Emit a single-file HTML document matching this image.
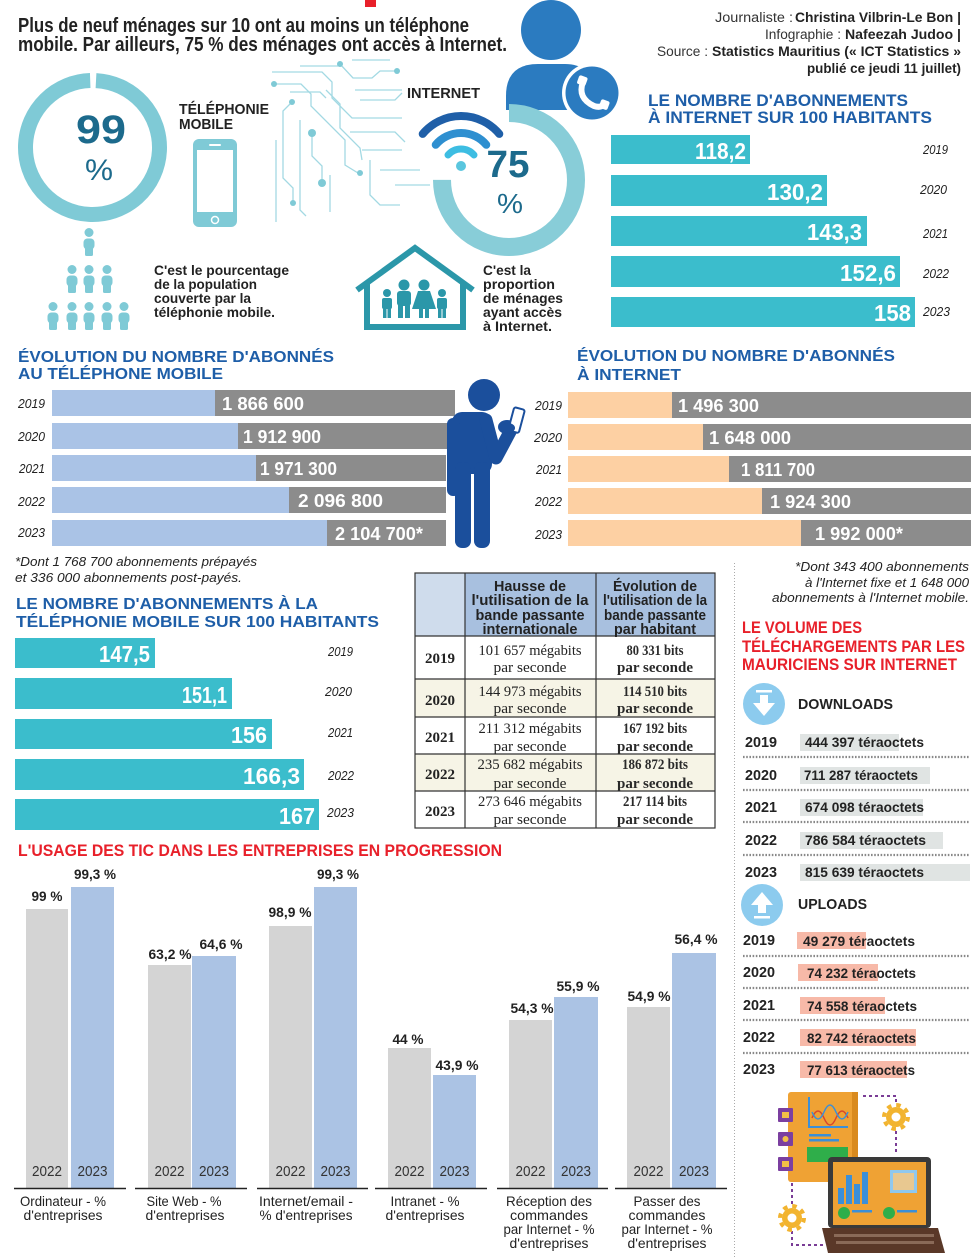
<!DOCTYPE html>
<html><head><meta charset="utf-8"><style>
html,body{margin:0;padding:0;background:#fff;}
svg{display:block;font-family:"Liberation Sans",sans-serif;}
.b{font-weight:bold}
.i{font-style:italic}
.ser{font-family:"Liberation Serif",serif}
</style></head><body>
<svg width="978" height="1257" viewBox="0 0 978 1257" xmlns="http://www.w3.org/2000/svg">
<defs>
<g id="pp"><circle cx="0" cy="4.5" r="4.5"/><rect x="-5.5" y="10.5" width="11" height="11" rx="4"/><rect x="-4" y="17" width="8" height="11" rx="1.5"/></g>
</defs>
<rect width="978" height="1257" fill="#fff"/>

<!-- red mark -->
<rect x="365" y="0" width="11" height="7" fill="#e8202a"/>

<!-- Title -->
<text x="18" y="32" class="b" font-size="20" fill="#222" textLength="451" lengthAdjust="spacingAndGlyphs">Plus de neuf ménages sur 10 ont au moins un téléphone</text>
<text x="18" y="51" class="b" font-size="20" fill="#222" textLength="489" lengthAdjust="spacingAndGlyphs">mobile. Par ailleurs, 75 % des ménages ont accès à Internet.</text>

<!-- 99% donut -->
<circle cx="92.5" cy="147.5" r="67" fill="none" stroke="#7fcad6" stroke-width="15" stroke-dasharray="415 6" transform="rotate(-87 92.5 147.5)"/>
<text x="101" y="143" text-anchor="middle" class="b" font-size="40" fill="#1c6a8c" textLength="50" lengthAdjust="spacingAndGlyphs">99</text>
<text x="99" y="180" text-anchor="middle" font-size="30" fill="#1c6a8c" textLength="28" lengthAdjust="spacingAndGlyphs">%</text>

<text x="179" y="114" class="b" font-size="15" fill="#222" textLength="90" lengthAdjust="spacingAndGlyphs">TÉLÉPHONIE</text>
<text x="179" y="129" class="b" font-size="15" fill="#222" textLength="54" lengthAdjust="spacingAndGlyphs">MOBILE</text>

<!-- phone icon -->
<rect x="193" y="139" width="44" height="88" rx="6" fill="#7fcad6"/>
<rect x="197" y="150" width="36" height="62" fill="#fff"/>
<rect x="209" y="144" width="12" height="2" rx="1" fill="#fff"/>
<circle cx="215" cy="220" r="3.5" fill="none" stroke="#fff" stroke-width="1.5"/>

<!-- circuit -->
<g stroke="#a3d9e3" stroke-width="1.3" fill="none">
<polyline points="340,64 353,78 372,78 380,71 397,71"/>
<polyline points="274,84 301,84 311,94 311,106 345,140 345,165 358,173"/>
<polyline points="292,102 283,111 283,178 293,188 293,203"/>
<polyline points="312,133 312,156 322,166 322,183"/>
<polyline points="272,72 322,72 332,82 332,98 352,118 402,118"/>
<polyline points="300,66 338,66"/>
<polyline points="326,90 340,104 340,128 360,148 362,160"/>
<polyline points="355,90 402,90"/>
<polyline points="360,100 395,100 402,93"/>
<polyline points="350,132 395,132 405,142"/>
<polyline points="362,150 402,150"/>
<polyline points="300,120 300,210 306,216"/>
<polyline points="276,140 276,222"/>
<polyline points="330,175 330,212"/>
<polyline points="370,160 370,195 380,205 400,205"/>
<polyline points="380,170 420,170"/>
<polyline points="395,185 430,185"/>
<polyline points="290,92 320,92 326,98"/>
<polyline points="352,60 390,60"/>
</g>
<g fill="#7fcad6">
<circle cx="340" cy="64" r="3"/><circle cx="397" cy="71" r="3"/><circle cx="274" cy="84" r="3"/>
<circle cx="360" cy="173" r="3"/><circle cx="292" cy="102" r="3"/><circle cx="293" cy="203" r="3"/>
<circle cx="312" cy="133" r="4"/><circle cx="322" cy="183" r="4"/>
</g>

<!-- people pyramid -->
<g fill="#7fcad6">
<use href="#pp" x="89" y="228"/>
<use href="#pp" x="72" y="265"/><use href="#pp" x="89" y="265"/><use href="#pp" x="107" y="265"/>
<use href="#pp" x="53" y="302"/><use href="#pp" x="72" y="302"/><use href="#pp" x="89" y="302"/><use href="#pp" x="107" y="302"/><use href="#pp" x="124" y="302"/>
</g>

<g class="b" font-size="13.5" fill="#222">
<text x="154" y="275" textLength="135" lengthAdjust="spacingAndGlyphs">C'est le pourcentage</text>
<text x="154" y="289" textLength="103" lengthAdjust="spacingAndGlyphs">de la population</text>
<text x="154" y="303" textLength="97" lengthAdjust="spacingAndGlyphs">couverte par la</text>
<text x="154" y="317" textLength="121" lengthAdjust="spacingAndGlyphs">téléphonie mobile.</text>
</g>

<text x="407" y="98" class="b" font-size="15" fill="#222" textLength="73" lengthAdjust="spacingAndGlyphs">INTERNET</text>

<!-- blue person with phone (top) -->
<circle cx="551" cy="30" r="30" fill="#2b7bc0"/>
<path d="M506,110 L506,96 Q506,64 538,64 L565,64 Q590,64 598,90 L598,110 Z" fill="#2b7bc0"/>

<!-- 75% donut -->
<circle cx="509" cy="180" r="67" fill="none" stroke="#88cdd8" stroke-width="18" stroke-dasharray="315.7 105.3" transform="rotate(-90 509 180)"/>

<circle cx="592" cy="93" r="30" fill="#fff"/>
<circle cx="592" cy="93" r="26.5" fill="#2b7bc0"/>
<path d="M583,82 Q577,98 594,106 Q600,108 604,105" fill="none" stroke="#fff" stroke-width="6" stroke-linecap="round"/>
<rect x="578" y="76" width="9" height="9" rx="2" fill="#fff" transform="rotate(20 582 80)"/>
<rect x="600" y="100" width="9" height="9" rx="2" fill="#fff" transform="rotate(20 604 104)"/>

<!-- wifi -->
<path d="M422.7,133.9 A50,50 0 0 1 499.3,133.9" fill="none" stroke="#1f5fa8" stroke-width="8" stroke-linecap="round"/>
<path d="M435.7,144.8 A33,33 0 0 1 486.3,144.8" fill="none" stroke="#2e8fd0" stroke-width="8" stroke-linecap="round"/>
<path d="M448,155 A17,17 0 0 1 474,155" fill="none" stroke="#3dbde2" stroke-width="7" stroke-linecap="round"/>
<circle cx="461" cy="166" r="5" fill="#5ac6de"/>

<text x="508" y="177" text-anchor="middle" class="b" font-size="38" fill="#1c6a8c" textLength="43" lengthAdjust="spacingAndGlyphs">75</text>
<text x="510" y="213" text-anchor="middle" font-size="28" fill="#1c6a8c" textLength="26" lengthAdjust="spacingAndGlyphs">%</text>

<!-- house -->
<path d="M357,290 L415,248 L473,290" fill="none" stroke="#2b97a9" stroke-width="6" stroke-linejoin="miter"/>
<path d="M367,282 L367,327 L463,327 L463,282" fill="none" stroke="#2b97a9" stroke-width="6"/>
<g fill="#2b97a9">
<circle cx="387" cy="293" r="4"/><rect x="382" y="298" width="10" height="11" rx="2"/><rect x="383" y="306" width="3.5" height="12"/><rect x="387.5" y="306" width="3.5" height="12"/>
<circle cx="404" cy="285" r="5.5"/><rect x="397" y="291" width="14" height="15" rx="3"/><rect x="398" y="304" width="5" height="14"/><rect x="405" y="304" width="5" height="14"/>
<circle cx="424" cy="285" r="5.5"/><path d="M418,291 L430,291 L436,309 L412,309 Z"/><rect x="419" y="307" width="4" height="11"/><rect x="425" y="307" width="4" height="11"/>
<circle cx="442" cy="293" r="4"/><rect x="437" y="298" width="10" height="11" rx="2"/><rect x="438" y="306" width="3.5" height="12"/><rect x="442.5" y="306" width="3.5" height="12"/>
</g>

<g class="b" font-size="13.5" fill="#222">
<text x="483" y="275" textLength="48" lengthAdjust="spacingAndGlyphs">C'est la</text>
<text x="483" y="289" textLength="72" lengthAdjust="spacingAndGlyphs">proportion</text>
<text x="483" y="303" textLength="80" lengthAdjust="spacingAndGlyphs">de ménages</text>
<text x="483" y="317" textLength="79" lengthAdjust="spacingAndGlyphs">ayant accès</text>
<text x="483" y="331" textLength="69" lengthAdjust="spacingAndGlyphs">à Internet.</text>
</g>

<!-- credits -->
<g font-size="13.5" fill="#333">
<text x="715" y="22" textLength="78" lengthAdjust="spacingAndGlyphs">Journaliste :</text>
<text x="795" y="22" class="b" fill="#222" textLength="166" lengthAdjust="spacingAndGlyphs">Christina Vilbrin-Le Bon |</text>
<text x="765" y="39" textLength="76" lengthAdjust="spacingAndGlyphs">Infographie :</text>
<text x="845" y="39" class="b" fill="#222" textLength="116" lengthAdjust="spacingAndGlyphs">Nafeezah Judoo |</text>
<text x="657" y="56" textLength="51" lengthAdjust="spacingAndGlyphs">Source :</text>
<text x="712" y="56" class="b" fill="#222" textLength="249" lengthAdjust="spacingAndGlyphs">Statistics Mauritius (« ICT Statistics »</text>
<text x="807" y="73" class="b" fill="#222" textLength="154" lengthAdjust="spacingAndGlyphs">publié ce jeudi 11 juillet)</text>
</g>

<!-- Internet per 100 -->
<text x="648" y="106" class="b" font-size="17" fill="#1e5ea8" textLength="260" lengthAdjust="spacingAndGlyphs">LE NOMBRE D'ABONNEMENTS</text>
<text x="648" y="123" class="b" font-size="17" fill="#1e5ea8" textLength="284" lengthAdjust="spacingAndGlyphs">À INTERNET SUR 100 HABITANTS</text>
<g fill="#3bbdcc">
<rect x="611" y="135" width="139" height="29"/>
<rect x="611" y="175" width="216" height="31"/>
<rect x="611" y="216" width="256" height="30"/>
<rect x="611" y="256" width="289" height="31"/>
<rect x="611" y="297" width="304" height="30"/>
</g>
<g class="b" font-size="23" fill="#fff" text-anchor="end">
<text x="746" y="159" textLength="51" lengthAdjust="spacingAndGlyphs">118,2</text>
<text x="823" y="200" textLength="56" lengthAdjust="spacingAndGlyphs">130,2</text>
<text x="862" y="240" textLength="55" lengthAdjust="spacingAndGlyphs">143,3</text>
<text x="896" y="281" textLength="56" lengthAdjust="spacingAndGlyphs">152,6</text>
<text x="911" y="321" textLength="37" lengthAdjust="spacingAndGlyphs">158</text>
</g>
<g class="i" font-size="12.5" fill="#222">
<text x="923" y="154" textLength="25" lengthAdjust="spacingAndGlyphs">2019</text>
<text x="920" y="194" textLength="27" lengthAdjust="spacingAndGlyphs">2020</text>
<text x="923" y="238" textLength="25" lengthAdjust="spacingAndGlyphs">2021</text>
<text x="923" y="278" textLength="26" lengthAdjust="spacingAndGlyphs">2022</text>
<text x="923" y="316" textLength="27" lengthAdjust="spacingAndGlyphs">2023</text>
</g>

<!-- Evolution mobile -->
<text x="18" y="362" class="b" font-size="16" fill="#1e5ea8" textLength="316" lengthAdjust="spacingAndGlyphs">ÉVOLUTION DU NOMBRE D'ABONNÉS</text>
<text x="18" y="379" class="b" font-size="16" fill="#1e5ea8" textLength="205" lengthAdjust="spacingAndGlyphs">AU TÉLÉPHONE MOBILE</text>
<g fill="#aac3e6">
<rect x="52" y="390" width="163" height="26"/>
<rect x="52" y="423" width="186" height="26"/>
<rect x="52" y="455" width="204" height="26"/>
<rect x="52" y="487" width="237" height="26"/>
<rect x="52" y="520" width="275" height="26"/>
</g>
<g fill="#8c8c8c">
<rect x="215" y="390" width="240" height="26"/>
<rect x="238" y="423" width="212" height="26"/>
<rect x="256" y="455" width="190" height="26"/>
<rect x="289" y="487" width="157" height="26"/>
<rect x="327" y="520" width="119" height="26"/>
</g>
<g class="b" font-size="18" fill="#fff">
<text x="222" y="410" textLength="82" lengthAdjust="spacingAndGlyphs">1 866 600</text>
<text x="243" y="443" textLength="78" lengthAdjust="spacingAndGlyphs">1 912 900</text>
<text x="260" y="475" textLength="77" lengthAdjust="spacingAndGlyphs">1 971 300</text>
<text x="298" y="507" textLength="85" lengthAdjust="spacingAndGlyphs">2 096 800</text>
<text x="335" y="540" textLength="88" lengthAdjust="spacingAndGlyphs">2 104 700*</text>
</g>
<g class="i" font-size="12.5" fill="#222">
<text x="18" y="408" textLength="27" lengthAdjust="spacingAndGlyphs">2019</text>
<text x="18" y="441" textLength="27" lengthAdjust="spacingAndGlyphs">2020</text>
<text x="19" y="473" textLength="26" lengthAdjust="spacingAndGlyphs">2021</text>
<text x="18" y="506" textLength="27" lengthAdjust="spacingAndGlyphs">2022</text>
<text x="18" y="537" textLength="27" lengthAdjust="spacingAndGlyphs">2023</text>
</g>
<g class="i" font-size="13" fill="#222">
<text x="15" y="566" textLength="242" lengthAdjust="spacingAndGlyphs">*Dont 1 768 700 abonnements prépayés</text>
<text x="15" y="582" textLength="227" lengthAdjust="spacingAndGlyphs">et 336 000 abonnements post-payés.</text>
</g>

<!-- standing person -->
<g fill="#1b4f9c">
<circle cx="484" cy="395" r="16"/>
<rect x="452" y="412" width="40" height="62" rx="10"/>
<rect x="447" y="418" width="13" height="78" rx="6"/>
<rect x="455" y="462" width="16" height="86" rx="7"/>
<rect x="474" y="462" width="16" height="86" rx="7"/>
<polyline points="486,420 496,458 512,428" fill="none" stroke="#1b4f9c" stroke-width="13" stroke-linecap="round" stroke-linejoin="round"/>
<ellipse cx="507" cy="427" rx="9" ry="7"/>
</g>
<rect x="511" y="408" width="11" height="24" rx="2" fill="#fff" stroke="#1b4f9c" stroke-width="2" transform="rotate(15 516 420)"/>
<ellipse cx="508" cy="428" rx="7" ry="5" fill="#1b4f9c"/>

<!-- Evolution internet -->
<text x="577" y="361" class="b" font-size="16" fill="#1e5ea8" textLength="318" lengthAdjust="spacingAndGlyphs">ÉVOLUTION DU NOMBRE D'ABONNÉS</text>
<text x="577" y="380" class="b" font-size="16" fill="#1e5ea8" textLength="104" lengthAdjust="spacingAndGlyphs">À INTERNET</text>
<g fill="#fdd0a3">
<rect x="568" y="392" width="104" height="26"/>
<rect x="568" y="424" width="135" height="26"/>
<rect x="568" y="456" width="161" height="26"/>
<rect x="568" y="488" width="194" height="26"/>
<rect x="568" y="520" width="233" height="26"/>
</g>
<g fill="#8c8c8c">
<rect x="672" y="392" width="299" height="26"/>
<rect x="703" y="424" width="268" height="26"/>
<rect x="729" y="456" width="242" height="26"/>
<rect x="762" y="488" width="209" height="26"/>
<rect x="801" y="520" width="170" height="26"/>
</g>
<g class="b" font-size="18" fill="#fff">
<text x="678" y="412" textLength="81" lengthAdjust="spacingAndGlyphs">1 496 300</text>
<text x="709" y="444" textLength="82" lengthAdjust="spacingAndGlyphs">1 648 000</text>
<text x="741" y="476" textLength="74" lengthAdjust="spacingAndGlyphs">1 811 700</text>
<text x="770" y="508" textLength="81" lengthAdjust="spacingAndGlyphs">1 924 300</text>
<text x="815" y="540" textLength="88" lengthAdjust="spacingAndGlyphs">1 992 000*</text>
</g>
<g class="i" font-size="12.5" fill="#222">
<text x="535" y="410" textLength="27" lengthAdjust="spacingAndGlyphs">2019</text>
<text x="534" y="442" textLength="28" lengthAdjust="spacingAndGlyphs">2020</text>
<text x="536" y="474" textLength="26" lengthAdjust="spacingAndGlyphs">2021</text>
<text x="535" y="506" textLength="27" lengthAdjust="spacingAndGlyphs">2022</text>
<text x="535" y="539" textLength="27" lengthAdjust="spacingAndGlyphs">2023</text>
</g>
<g class="i" font-size="13" fill="#222" text-anchor="end">
<text x="969" y="571" textLength="174" lengthAdjust="spacingAndGlyphs">*Dont 343 400 abonnements</text>
<text x="969" y="587" textLength="164" lengthAdjust="spacingAndGlyphs">à l'Internet fixe et 1 648 000</text>
<text x="969" y="602" textLength="197" lengthAdjust="spacingAndGlyphs">abonnements à l'Internet mobile.</text>
</g>

<!-- dotted vertical -->
<line x1="734.5" y1="563" x2="734.5" y2="1257" stroke="#aaa" stroke-width="1" stroke-dasharray="1 2"/>

<!-- Mobile per 100 -->
<text x="16" y="609" class="b" font-size="16" fill="#1e5ea8" textLength="302" lengthAdjust="spacingAndGlyphs">LE NOMBRE D'ABONNEMENTS À LA</text>
<text x="16" y="627" class="b" font-size="16" fill="#1e5ea8" textLength="363" lengthAdjust="spacingAndGlyphs">TÉLÉPHONIE MOBILE SUR 100 HABITANTS</text>
<g fill="#3bbdcc">
<rect x="15" y="638" width="140" height="30"/>
<rect x="15" y="678" width="217" height="31"/>
<rect x="15" y="719" width="257" height="30"/>
<rect x="15" y="759" width="289" height="31"/>
<rect x="15" y="799" width="304" height="31"/>
</g>
<g class="b" font-size="23" fill="#fff" text-anchor="end">
<text x="150" y="662" textLength="51" lengthAdjust="spacingAndGlyphs">147,5</text>
<text x="227" y="703" textLength="45" lengthAdjust="spacingAndGlyphs">151,1</text>
<text x="267" y="743" textLength="36" lengthAdjust="spacingAndGlyphs">156</text>
<text x="300" y="784" textLength="57" lengthAdjust="spacingAndGlyphs">166,3</text>
<text x="315" y="824" textLength="36" lengthAdjust="spacingAndGlyphs">167</text>
</g>
<g class="i" font-size="12.5" fill="#222">
<text x="328" y="656" textLength="25" lengthAdjust="spacingAndGlyphs">2019</text>
<text x="325" y="696" textLength="27" lengthAdjust="spacingAndGlyphs">2020</text>
<text x="328" y="737" textLength="25" lengthAdjust="spacingAndGlyphs">2021</text>
<text x="328" y="780" textLength="26" lengthAdjust="spacingAndGlyphs">2022</text>
<text x="327" y="817" textLength="27" lengthAdjust="spacingAndGlyphs">2023</text>
</g>

<!-- Table -->
<rect x="415" y="573" width="50" height="63" fill="#cfdcec"/>
<rect x="465" y="573" width="250" height="63" fill="#a8c0df"/>
<rect x="415" y="679" width="300" height="38" fill="#f6f4e6"/>
<rect x="415" y="754" width="300" height="37" fill="#f6f4e6"/>
<g stroke="#333" stroke-width="1.2" fill="none">
<rect x="415" y="573" width="300" height="255"/>
<line x1="465" y1="573" x2="465" y2="828"/>
<line x1="596" y1="573" x2="596" y2="828"/>
<line x1="415" y1="636" x2="715" y2="636"/>
<line x1="415" y1="679" x2="715" y2="679"/>
<line x1="415" y1="717" x2="715" y2="717"/>
<line x1="415" y1="754" x2="715" y2="754"/>
<line x1="415" y1="791" x2="715" y2="791"/>
</g>
<g class="b" font-size="14.5" fill="#222" text-anchor="middle">
<text x="530" y="591" textLength="72" lengthAdjust="spacingAndGlyphs">Hausse de</text>
<text x="530" y="605" textLength="117" lengthAdjust="spacingAndGlyphs">l'utilisation de la</text>
<text x="530" y="620" textLength="109" lengthAdjust="spacingAndGlyphs">bande passante</text>
<text x="530" y="634" textLength="95" lengthAdjust="spacingAndGlyphs">internationale</text>
<text x="655" y="591" textLength="84" lengthAdjust="spacingAndGlyphs">Évolution de</text>
<text x="655" y="605" textLength="104" lengthAdjust="spacingAndGlyphs">l'utilisation de la</text>
<text x="655" y="620" textLength="102" lengthAdjust="spacingAndGlyphs">bande passante</text>
<text x="655" y="634" textLength="82" lengthAdjust="spacingAndGlyphs">par habitant</text>
</g>
<g class="ser b" font-size="15" fill="#222" text-anchor="middle">
<text x="440" y="663">2019</text>
<text x="440" y="705">2020</text>
<text x="440" y="742">2021</text>
<text x="440" y="779">2022</text>
<text x="440" y="816">2023</text>
</g>
<g class="ser" font-size="14.5" fill="#222" text-anchor="middle">
<text x="530" y="655" textLength="103" lengthAdjust="spacingAndGlyphs">101 657 mégabits</text>
<text x="530" y="672" textLength="73" lengthAdjust="spacingAndGlyphs">par seconde</text>
<text x="530" y="696" textLength="103" lengthAdjust="spacingAndGlyphs">144 973 mégabits</text>
<text x="530" y="713" textLength="73" lengthAdjust="spacingAndGlyphs">par seconde</text>
<text x="530" y="733" textLength="103" lengthAdjust="spacingAndGlyphs">211 312 mégabits</text>
<text x="530" y="751" textLength="73" lengthAdjust="spacingAndGlyphs">par seconde</text>
<text x="530" y="769" textLength="105" lengthAdjust="spacingAndGlyphs">235 682 mégabits</text>
<text x="530" y="788" textLength="73" lengthAdjust="spacingAndGlyphs">par seconde</text>
<text x="530" y="806" textLength="104" lengthAdjust="spacingAndGlyphs">273 646 mégabits</text>
<text x="530" y="824" textLength="73" lengthAdjust="spacingAndGlyphs">par seconde</text>
</g>
<g class="ser b" font-size="14.5" fill="#2a2a2a" text-anchor="middle">
<text x="655" y="655" textLength="57" lengthAdjust="spacingAndGlyphs">80 331 bits</text>
<text x="655" y="672" textLength="76" lengthAdjust="spacingAndGlyphs">par seconde</text>
<text x="655" y="696" textLength="64" lengthAdjust="spacingAndGlyphs">114 510 bits</text>
<text x="655" y="713" textLength="76" lengthAdjust="spacingAndGlyphs">par seconde</text>
<text x="655" y="733" textLength="64" lengthAdjust="spacingAndGlyphs">167 192 bits</text>
<text x="655" y="751" textLength="76" lengthAdjust="spacingAndGlyphs">par seconde</text>
<text x="655" y="769" textLength="66" lengthAdjust="spacingAndGlyphs">186 872 bits</text>
<text x="655" y="788" textLength="76" lengthAdjust="spacingAndGlyphs">par seconde</text>
<text x="655" y="806" textLength="64" lengthAdjust="spacingAndGlyphs">217 114 bits</text>
<text x="655" y="824" textLength="76" lengthAdjust="spacingAndGlyphs">par seconde</text>
</g>

<!-- Downloads / uploads -->
<g class="b" font-size="16.5" fill="#e8202a">
<text x="742" y="633" textLength="120" lengthAdjust="spacingAndGlyphs">LE VOLUME DES</text>
<text x="742" y="652" textLength="223" lengthAdjust="spacingAndGlyphs">TÉLÉCHARGEMENTS PAR LES</text>
<text x="742" y="670" textLength="215" lengthAdjust="spacingAndGlyphs">MAURICIENS SUR INTERNET</text>
</g>
<circle cx="764" cy="704" r="21" fill="#8ccbee"/>
<rect x="756" y="690" width="16" height="2.5" fill="#fff"/>
<rect x="760" y="695" width="8" height="9" fill="#fff"/>
<polygon points="753,703 775,703 764,716" fill="#fff"/>
<text x="798" y="709" class="b" font-size="15" fill="#222" textLength="95" lengthAdjust="spacingAndGlyphs">DOWNLOADS</text>

<g fill="#e0e4e3">
<rect x="800" y="734" width="99" height="17"/>
<rect x="800" y="767" width="130" height="17"/>
<rect x="800" y="799" width="123" height="17"/>
<rect x="800" y="832" width="143" height="17"/>
<rect x="800" y="864" width="170" height="17"/>
</g>
<g stroke="#888" stroke-width="2.2" stroke-dasharray="1.6 1.6">
<line x1="743" y1="757" x2="970" y2="757"/>
<line x1="743" y1="790" x2="970" y2="790"/>
<line x1="743" y1="822" x2="970" y2="822"/>
<line x1="743" y1="855" x2="970" y2="855"/>
<line x1="743" y1="956" x2="970" y2="956"/>
<line x1="743" y1="988" x2="970" y2="988"/>
<line x1="743" y1="1020" x2="970" y2="1020"/>
<line x1="743" y1="1053" x2="970" y2="1053"/>
</g>
<g class="b" font-size="14.5" fill="#222">
<text x="745" y="747" textLength="32" lengthAdjust="spacingAndGlyphs">2019</text>
<text x="745" y="780" textLength="32" lengthAdjust="spacingAndGlyphs">2020</text>
<text x="745" y="812" textLength="32" lengthAdjust="spacingAndGlyphs">2021</text>
<text x="745" y="845" textLength="32" lengthAdjust="spacingAndGlyphs">2022</text>
<text x="745" y="877" textLength="32" lengthAdjust="spacingAndGlyphs">2023</text>
</g>
<g class="b" font-size="13.5" fill="#222">
<text x="805" y="747" textLength="119" lengthAdjust="spacingAndGlyphs">444 397 téraoctets</text>
<text x="804" y="780" textLength="114" lengthAdjust="spacingAndGlyphs">711 287 téraoctets</text>
<text x="805" y="812" textLength="119" lengthAdjust="spacingAndGlyphs">674 098 téraoctets</text>
<text x="805" y="845" textLength="121" lengthAdjust="spacingAndGlyphs">786 584 téraoctets</text>
<text x="805" y="877" textLength="119" lengthAdjust="spacingAndGlyphs">815 639 téraoctets</text>
</g>

<circle cx="762" cy="905" r="21" fill="#8ccbee"/>
<polygon points="751,905 773,905 762,892" fill="#fff"/>
<rect x="758" y="904" width="8" height="9" fill="#fff"/>
<rect x="754" y="916" width="16" height="2.5" fill="#fff"/>
<text x="798" y="909" class="b" font-size="15" fill="#222" textLength="69" lengthAdjust="spacingAndGlyphs">UPLOADS</text>

<g fill="#f7b9a8">
<rect x="797" y="932" width="69" height="17"/>
<rect x="798" y="964" width="80" height="17"/>
<rect x="800" y="997" width="85" height="17"/>
<rect x="800" y="1029" width="116" height="17"/>
<rect x="800" y="1061" width="107" height="17"/>
</g>
<g class="b" font-size="14.5" fill="#222">
<text x="743" y="945" textLength="32" lengthAdjust="spacingAndGlyphs">2019</text>
<text x="743" y="977" textLength="32" lengthAdjust="spacingAndGlyphs">2020</text>
<text x="743" y="1010" textLength="32" lengthAdjust="spacingAndGlyphs">2021</text>
<text x="743" y="1042" textLength="32" lengthAdjust="spacingAndGlyphs">2022</text>
<text x="743" y="1074" textLength="32" lengthAdjust="spacingAndGlyphs">2023</text>
</g>
<g class="b" font-size="13.5" fill="#222">
<text x="803" y="946" textLength="112" lengthAdjust="spacingAndGlyphs">49 279 téraoctets</text>
<text x="807" y="978" textLength="109" lengthAdjust="spacingAndGlyphs">74 232 téraoctets</text>
<text x="807" y="1011" textLength="110" lengthAdjust="spacingAndGlyphs">74 558 téraoctets</text>
<text x="807" y="1043" textLength="109" lengthAdjust="spacingAndGlyphs">82 742 téraoctets</text>
<text x="807" y="1075" textLength="108" lengthAdjust="spacingAndGlyphs">77 613 téraoctets</text>
</g>

<!-- illustration -->
<g fill="none" stroke="#7a3d96" stroke-width="2" stroke-dasharray="3 3">
<polyline points="863,1096 896,1096 896,1104"/>
<polyline points="896,1131 896,1152"/>
<polyline points="792,1183 792,1205"/>
<polyline points="792,1231 792,1245 825,1245"/>
</g>
<rect x="788" y="1092" width="70" height="90" rx="3" fill="#efa234"/>
<rect x="852" y="1092" width="6" height="90" fill="#d98a1e"/>
<polyline points="809,1097 809,1127 848,1127" fill="none" stroke="#3b8fd8" stroke-width="2"/>
<path d="M812,1118 q6,-14 12,0 t12,0 t12,0" fill="none" stroke="#d9472b" stroke-width="1.5"/>
<path d="M812,1112 q6,14 12,0 t12,0 t12,0" fill="none" stroke="#3b8fd8" stroke-width="1.5"/>
<rect x="809" y="1134" width="22" height="2.5" fill="#3b8fd8"/>
<rect x="809" y="1139" width="30" height="2.5" fill="#3b8fd8"/>
<rect x="807" y="1147" width="41" height="15" fill="#2fae4a"/>
<g fill="#7b3fa0">
<rect x="778" y="1108" width="15" height="14" rx="1"/>
<rect x="778" y="1132" width="15" height="14" rx="1"/>
<rect x="778" y="1157" width="15" height="14" rx="1"/>
</g>
<rect x="782" y="1112" width="7" height="6" fill="#f3c046"/>
<circle cx="785.5" cy="1139" r="3" fill="#f3c046"/>
<rect x="782" y="1161" width="7" height="6" fill="#f3c046"/>
<g>
<circle cx="896" cy="1117" r="10" fill="#f2b430"/>
<circle cx="896" cy="1117" r="12" fill="none" stroke="#f2b430" stroke-width="4" stroke-dasharray="4.5 4.9"/>
<circle cx="896" cy="1117" r="4.5" fill="#fff"/>
<circle cx="792" cy="1218" r="10" fill="#f2b430"/>
<circle cx="792" cy="1218" r="12" fill="none" stroke="#f2b430" stroke-width="4" stroke-dasharray="4.5 4.9"/>
<circle cx="792" cy="1218" r="4.5" fill="#fff"/>
</g>
<rect x="828" y="1157" width="103" height="71" rx="4" fill="#3a3a3a"/>
<rect x="833" y="1162" width="93" height="63" fill="#efa234"/>
<g fill="#3b8fd8">
<rect x="838" y="1188" width="6" height="16"/>
<rect x="846" y="1175" width="6" height="29"/>
<rect x="854" y="1184" width="6" height="20"/>
<rect x="862" y="1172" width="6" height="32"/>
</g>
<rect x="890" y="1170" width="27" height="23" fill="#8fc8ee"/>
<rect x="893" y="1173" width="21" height="17" fill="#e8c890"/>
<circle cx="844" cy="1213" r="6" fill="#2fae4a"/>
<circle cx="889" cy="1213" r="6" fill="#2fae4a"/>
<rect x="852" y="1210" width="20" height="2.5" fill="#3b8fd8"/>
<rect x="897" y="1210" width="20" height="2.5" fill="#3b8fd8"/>
<path d="M822,1228 L938,1228 L945,1253 L828,1253 Z" fill="#5a3828"/>
<rect x="834" y="1234" width="100" height="3" fill="#8a6a58"/>
<rect x="836" y="1241" width="98" height="3" fill="#8a6a58"/>

<!-- Bottom chart -->
<text x="18" y="856" class="b" font-size="16.5" fill="#e8202a" textLength="484" lengthAdjust="spacingAndGlyphs">L'USAGE DES TIC DANS LES ENTREPRISES EN PROGRESSION</text>
<g fill="#d4d4d4">
<rect x="26" y="909" width="42" height="279"/>
<rect x="148" y="965" width="43" height="223"/>
<rect x="269" y="926" width="43" height="262"/>
<rect x="388" y="1048" width="43" height="140"/>
<rect x="509" y="1020" width="43" height="168"/>
<rect x="627" y="1007" width="43" height="181"/>
</g>
<g fill="#abc3e4">
<rect x="71" y="887" width="43" height="301"/>
<rect x="192" y="956" width="44" height="232"/>
<rect x="314" y="887" width="43" height="301"/>
<rect x="433" y="1075" width="43" height="113"/>
<rect x="554" y="997" width="44" height="191"/>
<rect x="672" y="953" width="44" height="235"/>
</g>
<g stroke="#222" stroke-width="1.5">
<line x1="14" y1="1188.5" x2="126" y2="1188.5"/>
<line x1="135" y1="1188.5" x2="247" y2="1188.5"/>
<line x1="257" y1="1188.5" x2="368" y2="1188.5"/>
<line x1="375" y1="1188.5" x2="487" y2="1188.5"/>
<line x1="497" y1="1188.5" x2="608" y2="1188.5"/>
<line x1="615" y1="1188.5" x2="727" y2="1188.5"/>
</g>
<g class="b" font-size="14" fill="#222" text-anchor="middle">
<text x="47" y="901" textLength="31" lengthAdjust="spacingAndGlyphs">99 %</text>
<text x="95" y="879" textLength="42" lengthAdjust="spacingAndGlyphs">99,3 %</text>
<text x="170" y="959" textLength="43" lengthAdjust="spacingAndGlyphs">63,2 %</text>
<text x="221" y="949" textLength="43" lengthAdjust="spacingAndGlyphs">64,6 %</text>
<text x="290" y="917" textLength="43" lengthAdjust="spacingAndGlyphs">98,9 %</text>
<text x="338" y="879" textLength="42" lengthAdjust="spacingAndGlyphs">99,3 %</text>
<text x="408" y="1044" textLength="31" lengthAdjust="spacingAndGlyphs">44 %</text>
<text x="457" y="1070" textLength="43" lengthAdjust="spacingAndGlyphs">43,9 %</text>
<text x="532" y="1013" textLength="43" lengthAdjust="spacingAndGlyphs">54,3 %</text>
<text x="578" y="991" textLength="43" lengthAdjust="spacingAndGlyphs">55,9 %</text>
<text x="649" y="1001" textLength="43" lengthAdjust="spacingAndGlyphs">54,9 %</text>
<text x="696" y="944" textLength="43" lengthAdjust="spacingAndGlyphs">56,4 %</text>
</g>
<g font-size="15" fill="#333" text-anchor="middle">
<text x="47" y="1176" textLength="30" lengthAdjust="spacingAndGlyphs">2022</text>
<text x="92.5" y="1176" textLength="30" lengthAdjust="spacingAndGlyphs">2023</text>
<text x="169.5" y="1176" textLength="30" lengthAdjust="spacingAndGlyphs">2022</text>
<text x="214" y="1176" textLength="30" lengthAdjust="spacingAndGlyphs">2023</text>
<text x="290.5" y="1176" textLength="30" lengthAdjust="spacingAndGlyphs">2022</text>
<text x="335.5" y="1176" textLength="30" lengthAdjust="spacingAndGlyphs">2023</text>
<text x="409.5" y="1176" textLength="30" lengthAdjust="spacingAndGlyphs">2022</text>
<text x="454.5" y="1176" textLength="30" lengthAdjust="spacingAndGlyphs">2023</text>
<text x="530.5" y="1176" textLength="30" lengthAdjust="spacingAndGlyphs">2022</text>
<text x="576" y="1176" textLength="30" lengthAdjust="spacingAndGlyphs">2023</text>
<text x="648.5" y="1176" textLength="30" lengthAdjust="spacingAndGlyphs">2022</text>
<text x="694" y="1176" textLength="30" lengthAdjust="spacingAndGlyphs">2023</text>
</g>
<g font-size="14" fill="#222" text-anchor="middle">
<text x="63" y="1206" textLength="86" lengthAdjust="spacingAndGlyphs">Ordinateur - %</text>
<text x="63" y="1220" textLength="79" lengthAdjust="spacingAndGlyphs">d'entreprises</text>
<text x="184" y="1206" textLength="75" lengthAdjust="spacingAndGlyphs">Site Web - %</text>
<text x="185" y="1220" textLength="79" lengthAdjust="spacingAndGlyphs">d'entreprises</text>
<text x="306" y="1206" textLength="94" lengthAdjust="spacingAndGlyphs">Internet/email -</text>
<text x="306" y="1220" textLength="93" lengthAdjust="spacingAndGlyphs">% d'entreprises</text>
<text x="425" y="1206" textLength="69" lengthAdjust="spacingAndGlyphs">Intranet - %</text>
<text x="425" y="1220" textLength="79" lengthAdjust="spacingAndGlyphs">d'entreprises</text>
<text x="549" y="1206" textLength="86" lengthAdjust="spacingAndGlyphs">Réception des</text>
<text x="549" y="1220" textLength="78" lengthAdjust="spacingAndGlyphs">commandes</text>
<text x="549" y="1234" textLength="91" lengthAdjust="spacingAndGlyphs">par Internet - %</text>
<text x="549" y="1248" textLength="79" lengthAdjust="spacingAndGlyphs">d'entreprises</text>
<text x="667" y="1206" textLength="67" lengthAdjust="spacingAndGlyphs">Passer des</text>
<text x="667" y="1220" textLength="77" lengthAdjust="spacingAndGlyphs">commandes</text>
<text x="667" y="1234" textLength="91" lengthAdjust="spacingAndGlyphs">par Internet - %</text>
<text x="667" y="1248" textLength="79" lengthAdjust="spacingAndGlyphs">d'entreprises</text>
</g>
</svg>
</body></html>
